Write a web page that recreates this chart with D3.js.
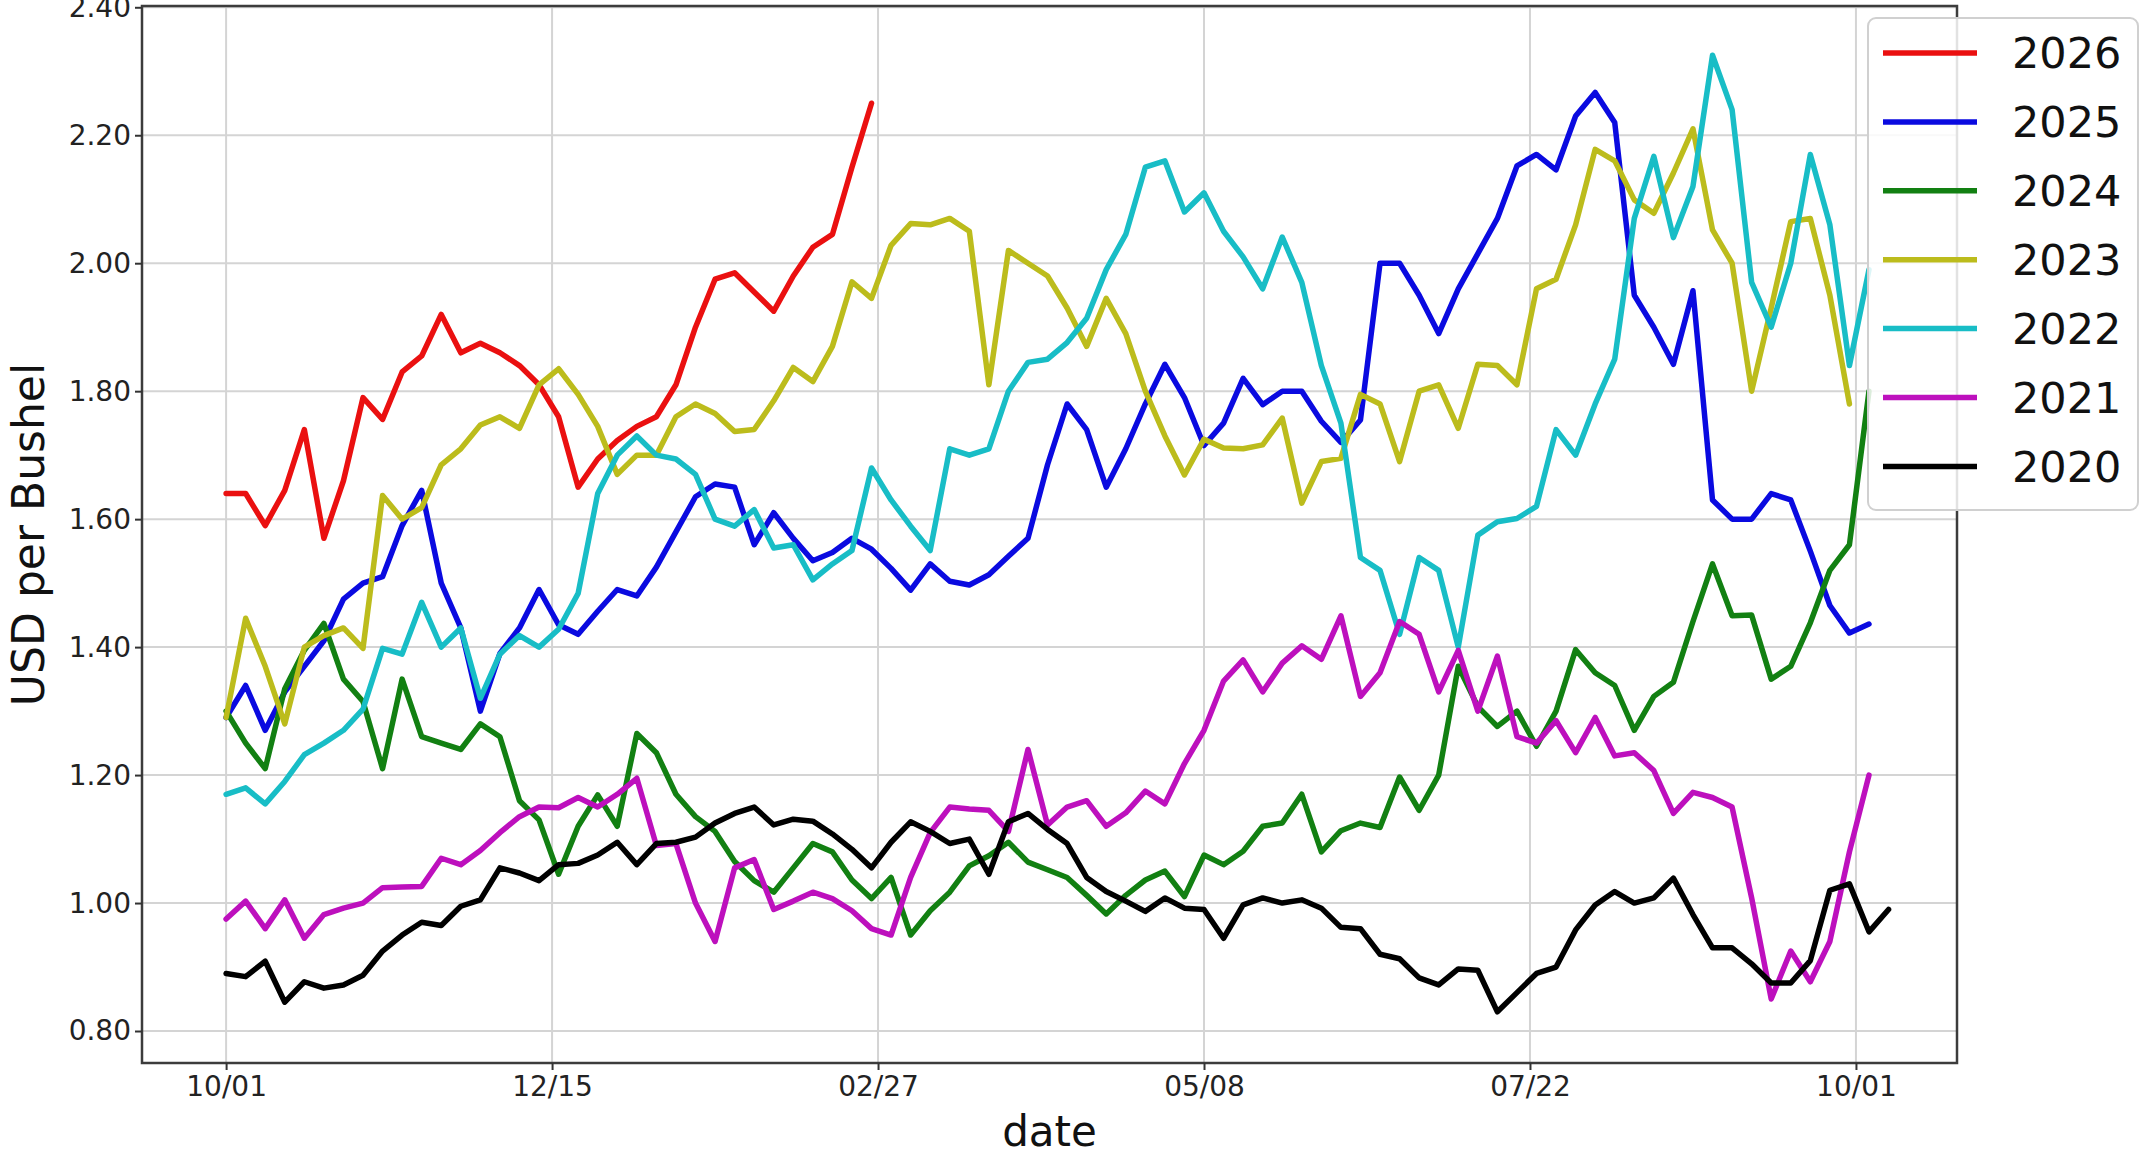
<!DOCTYPE html>
<html>
<head>
<meta charset="utf-8">
<title>USD per Bushel by marketing year</title>
<script src="https://cdn.jsdelivr.net/npm/d3@7/dist/d3.min.js"></script>
<style>
  html, body { margin: 0; padding: 0; background: #ffffff; }
  svg { display: block; font-family: "DejaVu Sans", sans-serif; }
</style>
</head>
<body>
<svg id="chart" width="2151" height="1160"></svg>
<script>
// Trading days between consecutive stored samples (day 0 = 10/01)
const SAMPLE_STEP = 3;

const xTickDays = [0, 50, 100, 150, 200, 250];
const xTickLabels = ["10/01", "12/15", "02/27", "05/08", "07/22", "10/01"];
const yTickValues = [0.80, 1.00, 1.20, 1.40, 1.60, 1.80, 2.00, 2.20, 2.40];

const seriesNames = ["2026", "2025", "2024", "2023", "2022", "2021", "2020"];

const values2026 = [1.64,1.64,1.59,1.645,1.74,1.57,1.66,1.79,1.756,1.83,1.855,1.92,1.86,1.875,1.86,1.84,1.81,1.76,1.65,1.694,1.723,1.745,1.76,1.81,1.90,1.975,1.985,1.955,1.925,1.98,2.025,2.045,2.15,2.25];

const values2025 = [1.29,1.34,1.27,1.33,1.37,1.41,1.475,1.50,1.51,1.59,
  1.645,1.50,1.43,1.30,1.39,1.43,1.49,1.435,1.42,1.456,
  1.49,1.48,1.525,1.58,1.635,1.655,1.65,1.56,1.61,1.57,
  1.535,1.548,1.57,1.553,1.523,1.489,1.53,1.503,1.497,1.513,
  1.542,1.57,1.685,1.78,1.74,1.65,1.71,1.78,1.842,1.79,
  1.715,1.75,1.82,1.779,1.80,1.80,1.753,1.72,1.755,2.00,
  2.00,1.95,1.89,1.96,2.015,2.07,2.152,2.17,2.146,2.23,
  2.267,2.22,1.95,1.90,1.842,1.957,1.63,1.60,1.60,1.64,
  1.63,1.55,1.465,1.422,1.436];

const values2024 = [1.30,1.25,1.21,1.335,1.395,1.437,1.35,1.315,1.21,1.35,
  1.26,1.25,1.24,1.28,1.26,1.16,1.13,1.045,1.12,1.169,
  1.12,1.265,1.235,1.17,1.135,1.112,1.065,1.035,1.017,1.055,
  1.093,1.08,1.036,1.007,1.04,0.95,0.988,1.017,1.058,1.074,
  1.095,1.064,1.052,1.04,1.012,0.983,1.012,1.036,1.05,1.01,
  1.075,1.06,1.081,1.12,1.125,1.17,1.08,1.113,1.125,1.118,
  1.197,1.145,1.20,1.37,1.307,1.276,1.30,1.245,1.30,1.396,
  1.36,1.34,1.27,1.323,1.345,1.44,1.53,1.449,1.45,1.35,
  1.37,1.438,1.52,1.56,1.80];

const values2023 = [1.29,1.445,1.37,1.28,1.40,1.418,1.43,1.398,1.637,1.60,
  1.618,1.685,1.71,1.747,1.76,1.742,1.81,1.835,1.795,1.745,
  1.67,1.70,1.70,1.76,1.78,1.765,1.737,1.74,1.785,1.837,
  1.815,1.87,1.971,1.945,2.028,2.062,2.06,2.07,2.05,1.81,
  2.02,2.00,1.98,1.93,1.87,1.945,1.89,1.80,1.73,1.669,
  1.725,1.711,1.71,1.716,1.758,1.625,1.69,1.695,1.795,1.78,
  1.69,1.80,1.81,1.742,1.842,1.84,1.81,1.96,1.975,2.06,
  2.178,2.16,2.099,2.078,2.141,2.21,2.052,2.00,1.80,1.93,
  2.065,2.07,1.95,1.78];

const values2022 = [1.17,1.18,1.155,1.19,1.232,1.25,1.27,1.303,1.398,1.389,
  1.47,1.40,1.43,1.32,1.389,1.418,1.40,1.428,1.484,1.64,
  1.70,1.73,1.70,1.694,1.67,1.60,1.589,1.615,1.555,1.56,
  1.505,1.53,1.551,1.68,1.63,1.589,1.551,1.71,1.70,1.71,
  1.80,1.845,1.85,1.876,1.914,1.99,2.045,2.15,2.16,2.08,
  2.11,2.05,2.01,1.96,2.041,1.97,1.84,1.75,1.54,1.52,
  1.42,1.54,1.52,1.40,1.575,1.596,1.601,1.62,1.74,1.70,
  1.78,1.85,2.07,2.167,2.04,2.12,2.325,2.24,1.97,1.90,
  2.00,2.17,2.06,1.84,1.99];

const values2021 = [0.975,1.003,0.96,1.005,0.945,0.982,0.992,1.00,1.024,1.025,
  1.026,1.07,1.06,1.082,1.11,1.135,1.15,1.149,1.165,1.15,
  1.17,1.195,1.09,1.093,1.00,0.94,1.055,1.068,0.99,1.003,
  1.017,1.007,0.988,0.96,0.95,1.04,1.11,1.15,1.147,1.145,
  1.112,1.24,1.122,1.15,1.16,1.12,1.141,1.175,1.155,1.218,
  1.27,1.347,1.38,1.33,1.375,1.402,1.381,1.449,1.323,1.36,
  1.44,1.42,1.33,1.395,1.30,1.386,1.26,1.25,1.285,1.235,
  1.29,1.23,1.235,1.207,1.14,1.173,1.165,1.15,1.008,0.85,
  0.925,0.877,0.94,1.08,1.20];

const values2020 = [0.89,0.885,0.909,0.845,0.877,0.867,0.872,0.887,0.925,0.95,
  0.97,0.965,0.995,1.005,1.055,1.047,1.035,1.06,1.062,1.075,
  1.095,1.06,1.093,1.095,1.103,1.125,1.14,1.15,1.122,1.131,
  1.128,1.108,1.084,1.055,1.095,1.127,1.112,1.093,1.10,1.045,
  1.127,1.14,1.115,1.093,1.04,1.018,1.003,0.987,1.008,0.992,
  0.99,0.945,0.997,1.008,1.00,1.005,0.992,0.962,0.96,0.92,
  0.913,0.883,0.872,0.897,0.895,0.83,0.86,0.89,0.90,0.958,
  0.997,1.018,1.00,1.008,1.039,0.982,0.93,0.93,0.905,0.875,
  0.875,0.91,1.02,1.03,0.955,0.99];

const seriesValues = [values2026, values2025, values2024, values2023, values2022, values2021, values2020];
const seriesColors = ["#ea1010", "#0a0ae0", "#128012", "#bcbc1c", "#18bdc6", "#bd10bd", "#000000"];

const series = seriesNames.map((name, k) => ({
  name,
  color: seriesColors[k],
  points: seriesValues[k].map((v, j) => [j * SAMPLE_STEP, v])
}));

// ---- layout ----
const svg = d3.select("#chart");
const plot = { left: 142, right: 1957, top: 6, bottom: 1063 };

const x = d3.scaleLinear().domain([-12.9, 265.5]).range([plot.left, plot.right]);
const y = d3.scaleLinear().domain([0.75, 2.402]).range([plot.bottom, plot.top]);

// grid
const grid = svg.append("g").attr("stroke", "#d4d4d4").attr("stroke-width", 2);
grid.selectAll("line.vx").data(xTickDays).join("line")
  .attr("class", "vx")
  .attr("x1", d => x(d)).attr("x2", d => x(d))
  .attr("y1", plot.top).attr("y2", plot.bottom);
grid.selectAll("line.hy").data(yTickValues).join("line")
  .attr("class", "hy")
  .attr("x1", plot.left).attr("x2", plot.right)
  .attr("y1", d => y(d)).attr("y2", d => y(d));

// series lines
svg.append("clipPath").attr("id", "plotClip")
  .append("rect")
  .attr("x", plot.left).attr("y", plot.top)
  .attr("width", plot.right - plot.left).attr("height", plot.bottom - plot.top);

const line = d3.line().x(d => x(d[0])).y(d => y(d[1]));
svg.append("g").attr("clip-path", "url(#plotClip)")
  .selectAll("path").data(series).join("path")
  .attr("d", s => line(s.points))
  .attr("fill", "none")
  .attr("stroke", s => s.color)
  .attr("stroke-width", 5.5)
  .attr("stroke-linejoin", "round")
  .attr("stroke-linecap", "round");

// axes frame
svg.append("rect")
  .attr("x", plot.left).attr("y", plot.top)
  .attr("width", plot.right - plot.left).attr("height", plot.bottom - plot.top)
  .attr("fill", "none").attr("stroke", "#3c3c3c").attr("stroke-width", 2.5);

// x axis
const xAxis = d3.axisBottom(x)
  .tickValues(xTickDays)
  .tickFormat((d, i) => xTickLabels[i])
  .tickSize(7).tickPadding(6);
const gx = svg.append("g").attr("transform", `translate(0,${plot.bottom})`).call(xAxis);
gx.select(".domain").remove();
gx.attr("font-family", "DejaVu Sans").attr("font-size", 28);
gx.selectAll(".tick line").attr("stroke", "#333").attr("stroke-width", 2);
gx.selectAll(".tick text").attr("fill", "#222");

// y axis
const yAxis = d3.axisLeft(y)
  .tickValues(yTickValues)
  .tickFormat(d3.format(".2f"))
  .tickSize(7).tickPadding(4);
const gy = svg.append("g").attr("transform", `translate(${plot.left},0)`).call(yAxis);
gy.select(".domain").remove();
gy.attr("font-family", "DejaVu Sans").attr("font-size", 28);
gy.selectAll(".tick line").attr("stroke", "#333").attr("stroke-width", 2);
gy.selectAll(".tick text").attr("fill", "#222");

// axis titles
svg.append("text")
  .attr("transform", `translate(44,${(plot.top + plot.bottom) / 2}) rotate(-90)`)
  .attr("text-anchor", "middle")
  .attr("font-size", 44)
  .attr("fill", "#111")
  .text("USD per Bushel");

svg.append("text")
  .attr("x", (plot.left + plot.right) / 2)
  .attr("y", 1146)
  .attr("text-anchor", "middle")
  .attr("font-size", 42)
  .attr("fill", "#111")
  .text("date");

// legend
const legend = svg.append("g").attr("transform", "translate(1868,18)");
legend.append("rect")
  .attr("width", 270).attr("height", 492)
  .attr("rx", 8).attr("ry", 8)
  .attr("fill", "#ffffff").attr("fill-opacity", 0.85)
  .attr("stroke", "#d0d0d0").attr("stroke-width", 2);
const entry = legend.selectAll("g.entry").data(series).join("g")
  .attr("class", "entry")
  .attr("transform", (d, k) => `translate(0,${35 + k * 68.9})`);
entry.append("line")
  .attr("x1", 15).attr("x2", 109)
  .attr("stroke", d => d.color)
  .attr("stroke-width", 5.5);
entry.append("text")
  .attr("x", 144).attr("dy", "0.36em")
  .attr("font-size", 43)
  .attr("fill", "#111")
  .text(d => d.name);
</script>
</body>
</html>
